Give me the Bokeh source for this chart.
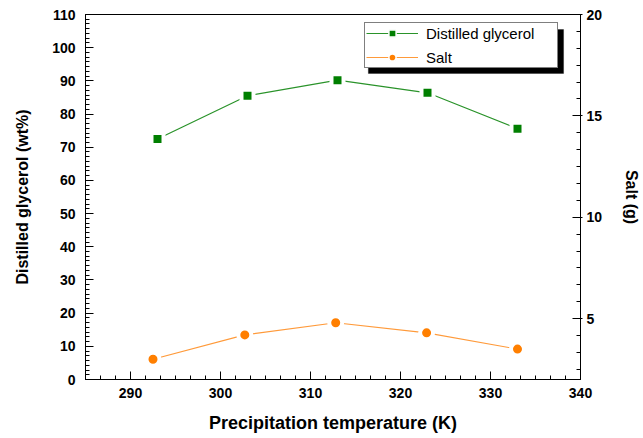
from bokeh.plotting import figure
from bokeh.models import (Range1d, LinearAxis, SingleIntervalTicker, Legend, LegendItem,
                          BoxAnnotation)
from bokeh.embed import file_html
from bokeh.resources import INLINE

# ---- data ----
temp_glycerol = [293, 303, 313, 323, 333]
glycerol_wt = [72.5, 85.5, 90.2, 86.4, 75.6]
temp_salt = [292.5, 302.7, 312.8, 322.9, 333]
salt_g = [3.0, 4.2, 4.8, 4.3, 3.5]

x_label = "Precipitation temperature (K)"
y_label = "Distilled glycerol (wt%)"
y2_label = "Salt (g)"
series_names = ["Distilled glycerol", "Salt"]

X0, X1 = 285, 340
Y0, Y1 = 0, 110
S0, S1 = 2, 20

W, H = 643, 438
ML, MR, MT, MB = 85, 61, 14, 59

p = figure(width=W, height=H, output_backend="svg", toolbar_location=None,
           x_range=Range1d(X0, X1), y_range=Range1d(Y0, Y1),
           min_border_left=ML, min_border_right=MR, min_border_top=MT, min_border_bottom=MB)
p.extra_y_ranges = {"salt": Range1d(S0, S1)}
p.xgrid.visible = False
p.ygrid.visible = False
p.outline_line_color = "black"
p.outline_line_width = 1
p.background_fill_alpha = 0
p.border_fill_color = "white"

FONT = "Liberation Sans"

def style_axis(ax, label_standoff, axis_label_standoff, tick_out=0):
    ax.axis_line_color = "black"
    ax.major_tick_line_color = "black"
    ax.major_tick_line_width = 1
    ax.minor_tick_line_color = "black"
    ax.minor_tick_line_width = 1
    ax.major_tick_in = 8
    ax.major_tick_out = tick_out
    ax.minor_tick_in = 4
    ax.minor_tick_out = 0
    ax.major_label_text_font = FONT
    ax.major_label_text_font_style = "bold"
    ax.major_label_text_font_size = "14px"
    ax.major_label_text_color = "black"
    ax.major_label_standoff = label_standoff
    ax.axis_label_text_font = FONT
    ax.axis_label_text_font_style = "bold"
    ax.axis_label_text_font_size = "16px"
    ax.axis_label_text_color = "black"
    ax.axis_label_standoff = axis_label_standoff

# x axis
p.xaxis.ticker = SingleIntervalTicker(interval=10, num_minor_ticks=6)
p.xaxis.axis_label = x_label
style_axis(p.xaxis[0], 8, 12)
p.xaxis.axis_label_text_font_size = "18px"

# left axis
p.yaxis.ticker = SingleIntervalTicker(interval=10, num_minor_ticks=7)
p.yaxis.axis_label = y_label
style_axis(p.yaxis[0], 10, 18)

# right axis
ax2 = LinearAxis(y_range_name="salt", axis_label=y2_label,
                 ticker=SingleIntervalTicker(interval=5, num_minor_ticks=6))
style_axis(ax2, 4, 18, tick_out=2)
p.add_layout(ax2, "right")

frame_w = W - ML - MR
frame_h = H - MT - MB
dx_per_px = (X1 - X0) / frame_w
dy_per_px = (Y1 - Y0) / frame_h

# ---- series ----
G_LINE, G_FILL = "#2a932a", "#007f00"
S_LINE, S_FILL = "#ff9a3a", "#ff7f00"
g_line = p.line(temp_glycerol, glycerol_wt, line_color=G_LINE, line_width=1.2)
g_pts = p.scatter(temp_glycerol, glycerol_wt, marker="square", size=12,
                  fill_color=G_FILL, line_color="white", line_width=4)
s_line = p.line(temp_salt, salt_g, line_color=S_LINE, line_width=1.2, y_range_name="salt")
s_pts = p.scatter(temp_salt, salt_g, marker="circle", size=13,
                  fill_color=S_FILL, line_color="white", line_width=4, y_range_name="salt")

# legend-only marker renderers (hidden on the plot)
g_leg = p.scatter(temp_glycerol, glycerol_wt, marker="square", size=8,
                  fill_color=G_FILL, line_color="white", line_width=1.5)
s_leg = p.scatter(temp_salt, salt_g, marker="circle", size=8,
                  fill_color=S_FILL, line_color="white", line_width=1.5, y_range_name="salt")
g_leg.visible = False
s_leg.visible = False

# ---- legend with shadow ----
def px_to_x(px):
    return X0 + (px - ML) * dx_per_px
def py_to_y(py):
    return Y0 + (MT + frame_h - py) * dy_per_px

leg_left, leg_top, leg_right, leg_bottom = 364, 24, 560, 68   # page px
shadow = BoxAnnotation(left=px_to_x(leg_left + 5), right=px_to_x(leg_right + 5),
                       top=py_to_y(leg_top + 5), bottom=py_to_y(leg_bottom + 5),
                       fill_color="black", fill_alpha=1.0, line_color="black", level="annotation")
p.add_layout(shadow)

legend = Legend(items=[LegendItem(label=series_names[0], renderers=[g_line, g_leg]),
                       LegendItem(label=series_names[1], renderers=[s_line, s_leg])],
                location=(leg_left - ML, MT + frame_h - leg_bottom),
                orientation="vertical",
                padding=1, spacing=6, margin=0,
                glyph_width=52, glyph_height=18, label_height=18,
                label_standoff=8, label_width=130,
                label_text_font=FONT, label_text_font_size="15px", label_text_color="black",
                border_line_color="black", border_line_width=1,
                background_fill_color="white", background_fill_alpha=1.0)
p.add_layout(legend)

open("out.html", "w").write(file_html(p, INLINE))
